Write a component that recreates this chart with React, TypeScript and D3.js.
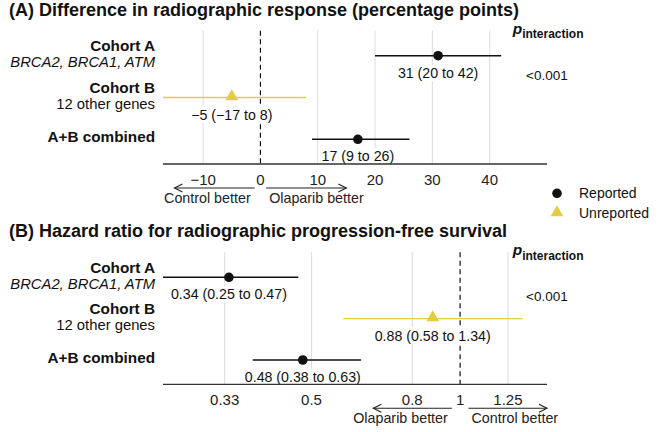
import React, { useEffect, useRef } from "react";
import * as d3 from "d3";

// ---------- data ----------
const rowKeys = ["A", "B", "AB"];
const rowTitles = ["Cohort A", "Cohort B", "A+B combined"];
const rowSubtitles = ["BRCA2, BRCA1, ATM", "12 other genes", ""];
const rowSubItalic = [true, false, false];
const rowReported = [true, false, true];

const respEst = [31, -5, 17];
const respLo = [20, -17, 9];
const respHi = [42, 8, 26];
const respLabels = ["31 (20 to 42)", "\u22125 (\u221217 to 8)", "17 (9 to 26)"];
const respTicks = [-10, 0, 10, 20, 30, 40];
const respTickLabels = ["\u221210", "0", "10", "20", "30", "40"];

const hrEst = [0.34, 0.88, 0.48];
const hrLo = [0.25, 0.58, 0.38];
const hrHi = [0.47, 1.34, 0.63];
const hrLabels = ["0.34 (0.25 to 0.47)", "0.88 (0.58 to 1.34)", "0.48 (0.38 to 0.63)"];
const hrTicks = [1 / 3, 0.5, 0.8, 1, 1.25];
const hrTickLabels = ["0.33", "0.5", "0.8", "1", "1.25"];

const pInteraction = ["<0.001", "<0.001"];
const legendLabels = ["Reported", "Unreported"];

// ---------- styles ----------
const FONT = "'Liberation Sans', Arial, sans-serif";
const YELLOW = "#E3CC41";
const GRID = "#DEDEDE";
const INK = "#111";

export default function App() {
  const ref = useRef<SVGSVGElement>(null);

  useEffect(() => {
    const svg = d3.select(ref.current);
    svg.selectAll("*").remove();

    const X0 = 163;
    const X1 = 547;

    const panels = [
      {
        title: "(A) Difference in radiographic response (percentage points)",
        titleY: 16,
        rowRange: [55.7, 139.3],
        axisY: 164,
        scale: d3.scaleLinear().domain([-17, 50]).range([X0, X1]),
        est: respEst,
        lo: respLo,
        hi: respHi,
        labels: respLabels,
        ticks: respTicks,
        tickLabels: respTickLabels,
        nullVal: 0,
        arrowL: [-1, -15],
        arrowR: [1, 15],
        textL: "Control better",
        textR: "Olaparib better",
        p: pInteraction[0],
      },
      {
        title: "(B) Hazard ratio for radiographic progression-free survival",
        titleY: 236.5,
        rowRange: [277.3, 360],
        axisY: 384.3,
        scale: d3.scaleLog().domain([0.25, 1.5]).range([X0, X1]),
        est: hrEst,
        lo: hrLo,
        hi: hrHi,
        labels: hrLabels,
        ticks: hrTicks,
        tickLabels: hrTickLabels,
        nullVal: 1,
        arrowL: [0.962, 0.667],
        arrowR: [1.04, 1.5],
        textL: "Olaparib better",
        textR: "Control better",
        p: pInteraction[1],
      },
    ];

    const arrow = (g: any, xa: number, xb: number, y: number) => {
      g.append("line").attr("x1", xa).attr("x2", xb).attr("y1", y).attr("y2", y)
        .attr("stroke", "#222").attr("stroke-width", 1.1);
      const dir = xb > xa ? 1 : -1;
      g.append("path")
        .attr("d", `M${xb - dir * 8},${y - 4}L${xb},${y}L${xb - dir * 8},${y + 4}`)
        .attr("fill", "none").attr("stroke", "#222").attr("stroke-width", 1.1);
    };

    panels.forEach((P) => {
      const g = svg.append("g");
      const x = P.scale;
      const y = d3.scalePoint().domain(rowKeys).range(P.rowRange as [number, number]);
      const gridTop = P.rowRange[0] - 25;

      // title
      g.append("text").attr("x", 9).attr("y", P.titleY).text(P.title)
        .attr("font-family", FONT).attr("font-weight", "bold").attr("font-size", 18)
        .attr("fill", INK);

      // grid
      P.ticks.forEach((t) => {
        if (t === P.nullVal) return;
        g.append("line").attr("x1", x(t)).attr("x2", x(t)).attr("y1", gridTop).attr("y2", P.axisY)
          .attr("stroke", GRID).attr("stroke-width", 1.1);
      });
      g.append("line").attr("x1", x(P.nullVal)).attr("x2", x(P.nullVal))
        .attr("y1", gridTop).attr("y2", P.axisY)
        .attr("stroke", INK).attr("stroke-width", 1.2).attr("stroke-dasharray", "5,3.5");

      // tick labels
      P.ticks.forEach((t, i) => {
        g.append("text").attr("x", x(t)).attr("y", P.axisY + 21).text(P.tickLabels[i])
          .attr("text-anchor", "middle").attr("font-family", FONT).attr("font-size", 15).attr("fill", "#222");
      });

      // direction arrows
      const ay = P.axisY + 24;
      arrow(g, x(P.arrowL[0]), x(P.arrowL[1]), ay);
      arrow(g, x(P.arrowR[0]), x(P.arrowR[1]), ay);
      g.append("text").attr("x", x(P.arrowL[0]) - 4).attr("y", ay + 15).text(P.textL)
        .attr("text-anchor", "end").attr("font-family", FONT).attr("font-size", 14.3).attr("fill", "#222");
      g.append("text").attr("x", x(P.arrowR[0]) + 3).attr("y", ay + 15).text(P.textR)
        .attr("text-anchor", "start").attr("font-family", FONT).attr("font-size", 14.3).attr("fill", "#222");

      // row labels
      rowKeys.forEach((k, i) => {
        const yy = y(k)!;
        if (rowSubtitles[i]) {
          g.append("text").attr("x", 155).attr("y", yy - 4.5).text(rowTitles[i])
            .attr("text-anchor", "end").attr("font-family", FONT).attr("font-weight", "bold")
            .attr("font-size", 15.3).attr("fill", INK);
          g.append("text").attr("x", 155).attr("y", yy + 11.5).text(rowSubtitles[i])
            .attr("text-anchor", "end").attr("font-family", FONT)
            .attr("font-style", rowSubItalic[i] ? "italic" : "normal")
            .attr("font-size", 14.8).attr("fill", INK);
        } else {
          g.append("text").attr("x", 155).attr("y", yy + 2.5).text(rowTitles[i])
            .attr("text-anchor", "end").attr("font-family", FONT).attr("font-weight", "bold")
            .attr("font-size", 15.3).attr("fill", INK);
        }
      });

      // intervals & points
      rowKeys.forEach((k, i) => {
        const yy = y(k)!;
        const col = rowReported[i] ? INK : YELLOW;
        g.append("line").attr("x1", x(P.lo[i])).attr("x2", x(P.hi[i])).attr("y1", yy).attr("y2", yy)
          .attr("stroke", col).attr("stroke-width", 1.4);
        if (rowReported[i]) {
          g.append("circle").attr("cx", x(P.est[i])).attr("cy", yy).attr("r", 4.8).attr("fill", col);
        } else {
          g.append("path").attr("d", d3.symbol(d3.symbolTriangle, 70)()!)
            .attr("transform", `translate(${x(P.est[i])},${yy - 1})`).attr("fill", col);
        }
        // label with white box
        const lg = g.append("g");
        const rect = lg.append("rect").attr("fill", "white");
        const cy = yy + 17;
        const t = lg.append("text").attr("x", x(P.est[i])).attr("y", cy + 5).text(P.labels[i])
          .attr("text-anchor", "middle").attr("font-family", FONT).attr("font-size", 14.2).attr("fill", INK);
        const bb = (t.node() as SVGTextElement).getBBox();
        rect.attr("x", bb.x - 3).attr("width", bb.width + 6).attr("y", cy - 8.5).attr("height", 17);
      });

      // axis line (on top)
      g.append("line").attr("x1", X0).attr("x2", X1).attr("y1", P.axisY).attr("y2", P.axisY)
        .attr("stroke", "#333").attr("stroke-width", 1.3);

      // p interaction
      const ph = g.append("text").attr("x", 512.7).attr("y", P.rowRange[0] - 22)
        .attr("font-family", FONT).attr("font-weight", "bold").attr("fill", INK);
      ph.append("tspan").text("p").attr("font-style", "italic").attr("font-size", 15.5);
      ph.append("tspan").text("interaction").attr("font-size", 12).attr("dy", 4.5);
      const mid = (y("A")! + y("B")!) / 2;
      g.append("text").attr("x", 526).attr("y", mid + 3.5).text(P.p)
        .attr("font-family", FONT).attr("font-size", 13.5).attr("fill", INK);
    });

    // legend
    const lg = svg.append("g");
    lg.append("circle").attr("cx", 557).attr("cy", 193.3).attr("r", 4.8).attr("fill", INK);
    lg.append("path").attr("d", d3.symbol(d3.symbolTriangle, 70)()!)
      .attr("transform", "translate(557,212.5)").attr("fill", YELLOW);
    legendLabels.forEach((s, i) => {
      lg.append("text").attr("x", 579).attr("y", 198.3 + i * 20).text(s)
        .attr("font-family", FONT).attr("font-size", 14).attr("fill", INK);
    });
  }, []);

  return (
    <svg
      ref={ref}
      width={658}
      height={432}
      style={{ position: "absolute", left: 0, top: 0, background: "white" }}
    />
  );
}
